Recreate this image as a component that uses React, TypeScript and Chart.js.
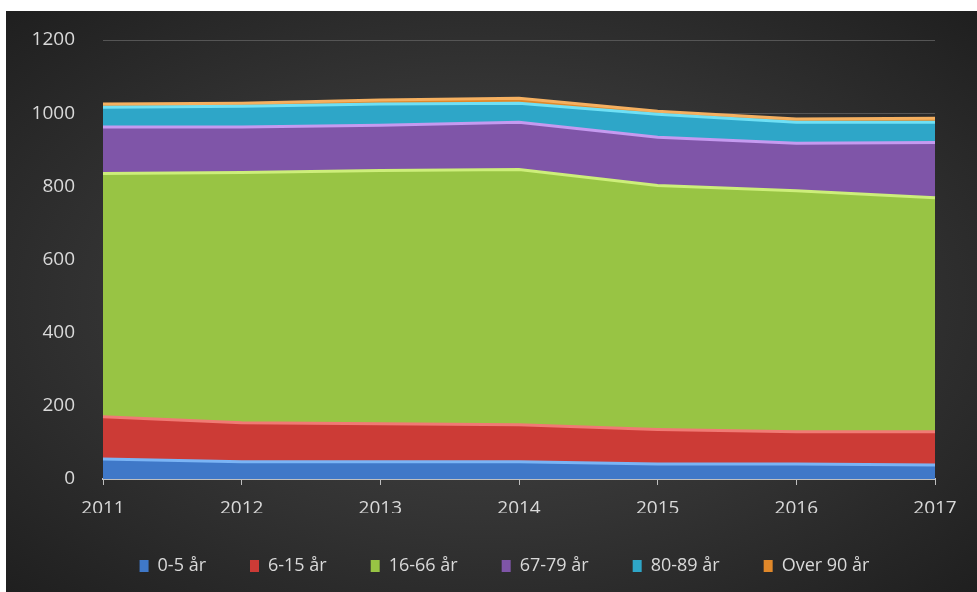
import React, { useEffect, useRef } from "react";
import { Chart, registerables } from "chart.js";

Chart.register(...registerables);

const years = ["2011", "2012", "2013", "2014", "2015", "2016", "2017"];
const age0to5 = [55, 47, 47, 47, 41, 41, 38];
const age6to15 = [115, 107, 104, 101, 94, 88, 91];
const age16to66 = [665, 684, 692, 698, 667, 659, 640];
const age67to79 = [127, 124, 124, 129, 132, 130, 151];
const age80to89 = [54, 57, 58, 52, 63, 57, 55];
const age90plus = [9, 8, 11, 14, 8, 9, 11];
const seriesNames = ["0-5 år", "6-15 år", "16-66 år", "67-79 år", "80-89 år", "Over 90 år"];
const fillColors = ["#3f78c8", "#cc3b36", "#98c444", "#7f55a8", "#2ea6c8", "#e0882a"];
const edgeColors = ["#7ab4f5", "#f07a74", "#cdee7a", "#c59af0", "#6fe0f5", "#f5b060"];

const FONT = "'Open Sans', sans-serif";

const shiftLegend = {
  id: "shiftLegend",
  afterLayout(chart: any) {
    if (chart.legend) {
      chart.legend.left += 29;
      chart.legend.right += 29;
    }
  },
};

export default function App() {
  const ref = useRef<HTMLCanvasElement | null>(null);
  useEffect(() => {
    if (!ref.current) return;
    const all = [age0to5, age6to15, age16to66, age67to79, age80to89, age90plus];
    const chart = new Chart(ref.current, {
      type: "line",
      data: {
        labels: years,
        datasets: all.map((d, i) => ({
          label: seriesNames[i],
          data: d,
          fill: i === 0 ? "origin" : "-1",
          backgroundColor: fillColors[i],
          borderColor: edgeColors[i],
          borderWidth: 3,
          pointRadius: 0,
          tension: 0,
        })),
      },
      plugins: [shiftLegend],
      options: {
        animation: false,
        responsive: false,
        maintainAspectRatio: false,
        layout: { padding: { left: 10, right: 42, top: 29, bottom: 7 } },
        plugins: {
          tooltip: { enabled: false },
          legend: {
            position: "bottom",
            labels: {
              color: "#d9d9d9",
              font: { family: FONT, size: 18 },
              boxWidth: 9,
              boxHeight: 12,
              padding: 44,
              generateLabels: (ch: any) => {
                const items = Chart.defaults.plugins.legend.labels.generateLabels(ch);
                return items.map((it: any, i: number) => ({
                  ...it,
                  fillStyle: fillColors[i],
                  strokeStyle: fillColors[i],
                  lineWidth: 0,
                }));
              },
            },
          },
        },
        scales: {
          x: {
            stacked: true,
            offset: false,
            afterFit: (s: any) => {
              s.height = 34;
            },
            grid: {
              drawOnChartArea: false,
              drawTicks: true,
              tickLength: 6,
              color: "#bfbfbf",
            },
            border: { color: "#bfbfbf", width: 2 },
            ticks: {
              color: "#d9d9d9",
              font: { family: FONT, size: 19 },
              padding: 12,
              maxRotation: 0,
            },
          },
          y: {
            stacked: true,
            min: 0,
            max: 1200,
            afterFit: (s: any) => {
              s.width = 87;
            },
            ticks: {
              stepSize: 200,
              color: "#d9d9d9",
              font: { family: FONT, size: 19 },
              padding: 0,
              callback: (v: any) => String(v),
            },
            grid: {
              color: "#555555",
              drawTicks: true,
              tickLength: 28,
              tickColor: "rgba(0,0,0,0)",
            },
            border: { display: false },
          },
        },
      },
    });
    return () => chart.destroy();
  }, []);
  return (
    <div
      style={{
        position: "absolute",
        left: 6,
        top: 11,
        width: 971,
        height: 581,
        background: "radial-gradient(ellipse at 50% 50%, #4a4a4a 0%, #333333 55%, #1f1f1f 100%)",
      }}
    >
      <canvas ref={ref} width={971} height={581} />
    </div>
  );
}
